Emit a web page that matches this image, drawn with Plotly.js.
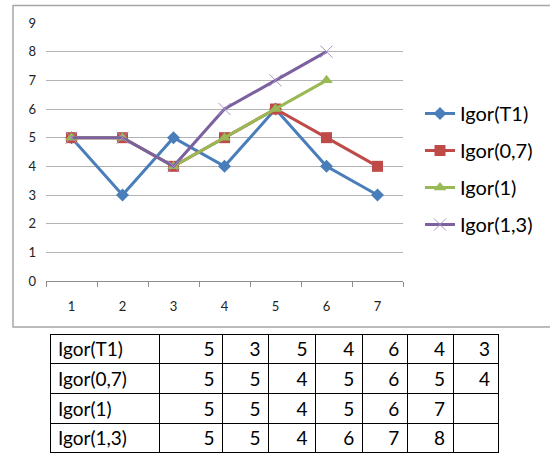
<!DOCTYPE html>
<html>
<head>
<meta charset="utf-8">
<script src="https://cdn.plot.ly/plotly-3.0.1.min.js"></script>
<style>html,body{margin:0;padding:0;background:#fff;}#chart{width:550px;height:454px;}</style>
</head>
<body>
<div id="chart"></div>
<script>
var categories = ['1', '2', '3', '4', '5', '6', '7'];
var seriesNames = ['Igor(T1)', 'Igor(0,7)', 'Igor(1)', 'Igor(1,3)'];
var igorT1 = [5, 3, 5, 4, 6, 4, 3];
var igor07 = [5, 5, 4, 5, 6, 5, 4];
var igor1 = [5, 5, 4, 5, 6, 7];
var igor13 = [5, 5, 4, 6, 7, 8];
var yTicks = [0, 1, 2, 3, 4, 5, 6, 7, 8, 9];

var FONT = 'Lato, "Open Sans", sans-serif';
var seriesValues = [igorT1, igor07, igor1, igor13];
var colors = ['#4A7EBB', '#BE4B48', '#98B954', '#7D60A0'];
var symbols = ['diamond', 'square', 'triangle-up', 'x-thin'];
var sizes = [10, 11, 11, 12];

var traces = seriesValues.map(function (vals, i) {
  return {
    type: 'scatter', mode: 'lines+markers',
    x: categories.slice(0, vals.length), y: vals,
    name: seriesNames[i], legendgroup: 'g' + i,
    line: {color: colors[i], width: 3},
    marker: {symbol: symbols[i], size: sizes[i], color: colors[i],
             line: {color: i === 3 ? '#A592C4' : colors[i], width: i === 3 ? 1 : 0}},
    xaxis: 'x', yaxis: 'y'
  };
});

// table built from the same arrays: first row as header, rest as cells
function col(j) {
  return seriesValues.map(function (v) { return v[j] === undefined ? '' : String(v[j]); });
}
var tableCols = [seriesNames.slice()];
for (var j = 0; j < categories.length; j++) tableCols.push(col(j));
var headerVals = tableCols.map(function (c) { return [c[0]]; });
var cellVals = tableCols.map(function (c) { return c.slice(1); });
var aligns = ['left'].concat(categories.map(function () { return 'right'; }));

traces.push({
  type: 'table',
  domain: {x: [50 / 550, 499 / 550], y: [0, 1 - 334 / 454]},
  columnwidth: [110, 63, 46, 47, 47, 45, 46, 45],
  header: {values: headerVals, align: aligns, height: 29.7,
           line: {color: '#000', width: 1}, fill: {color: '#fff'},
           font: {family: FONT, size: 19, color: '#000'}},
  cells: {values: cellVals, align: aligns, height: 29.7,
          line: {color: '#000', width: 1}, fill: {color: '#fff'},
          font: {family: FONT, size: 19, color: '#000'}},
  showlegend: false
});

var layout = {
  width: 550, height: 454,
  margin: {l: 0, r: 0, t: 0, b: 0},
  paper_bgcolor: '#fff', plot_bgcolor: '#fff',
  font: {family: FONT, color: '#222'},
  showlegend: true,
  legend: {x: 420 / 550, xanchor: 'left', y: 1 - 94 / 454, yanchor: 'top',
           font: {family: FONT, size: 20, color: '#000'}, tracegroupgap: 8,
           bgcolor: 'rgba(0,0,0,0)'},
  xaxis: {type: 'category', domain: [46 / 550, 403 / 550], range: [-0.5, 6.5],
          showgrid: false, showline: true, linecolor: '#8c8c8c', linewidth: 1,
          ticks: 'outside', tickson: 'boundaries', ticklen: 5, tickcolor: '#8c8c8c',
          ticklabelstandoff: 13, tickfont: {family: FONT, size: 13, color: '#222'},
          zeroline: false, fixedrange: true},
  yaxis: {domain: [1 - 281 / 454, 1 - 23 / 454], range: [0, 9], tickvals: yTicks,
          showgrid: true, gridcolor: '#b3b3b3', gridwidth: 1, showline: false,
          ticks: '', ticklabelstandoff: 9, zeroline: false,
          tickfont: {family: FONT, size: 13, color: '#222'}, fixedrange: true},
  shapes: [{type: 'rect', xref: 'paper', yref: 'paper',
            x0: 13 / 550, x1: 1.05, y0: 1 - 327 / 454, y1: 1 - 5.5 / 454,
            line: {color: '#a6a6a6', width: 1.5}, fillcolor: 'rgba(0,0,0,0)', layer: 'below'}]
};

Plotly.newPlot('chart', traces, layout, {displayModeBar: false, staticPlot: true});
</script>
</body>
</html>
